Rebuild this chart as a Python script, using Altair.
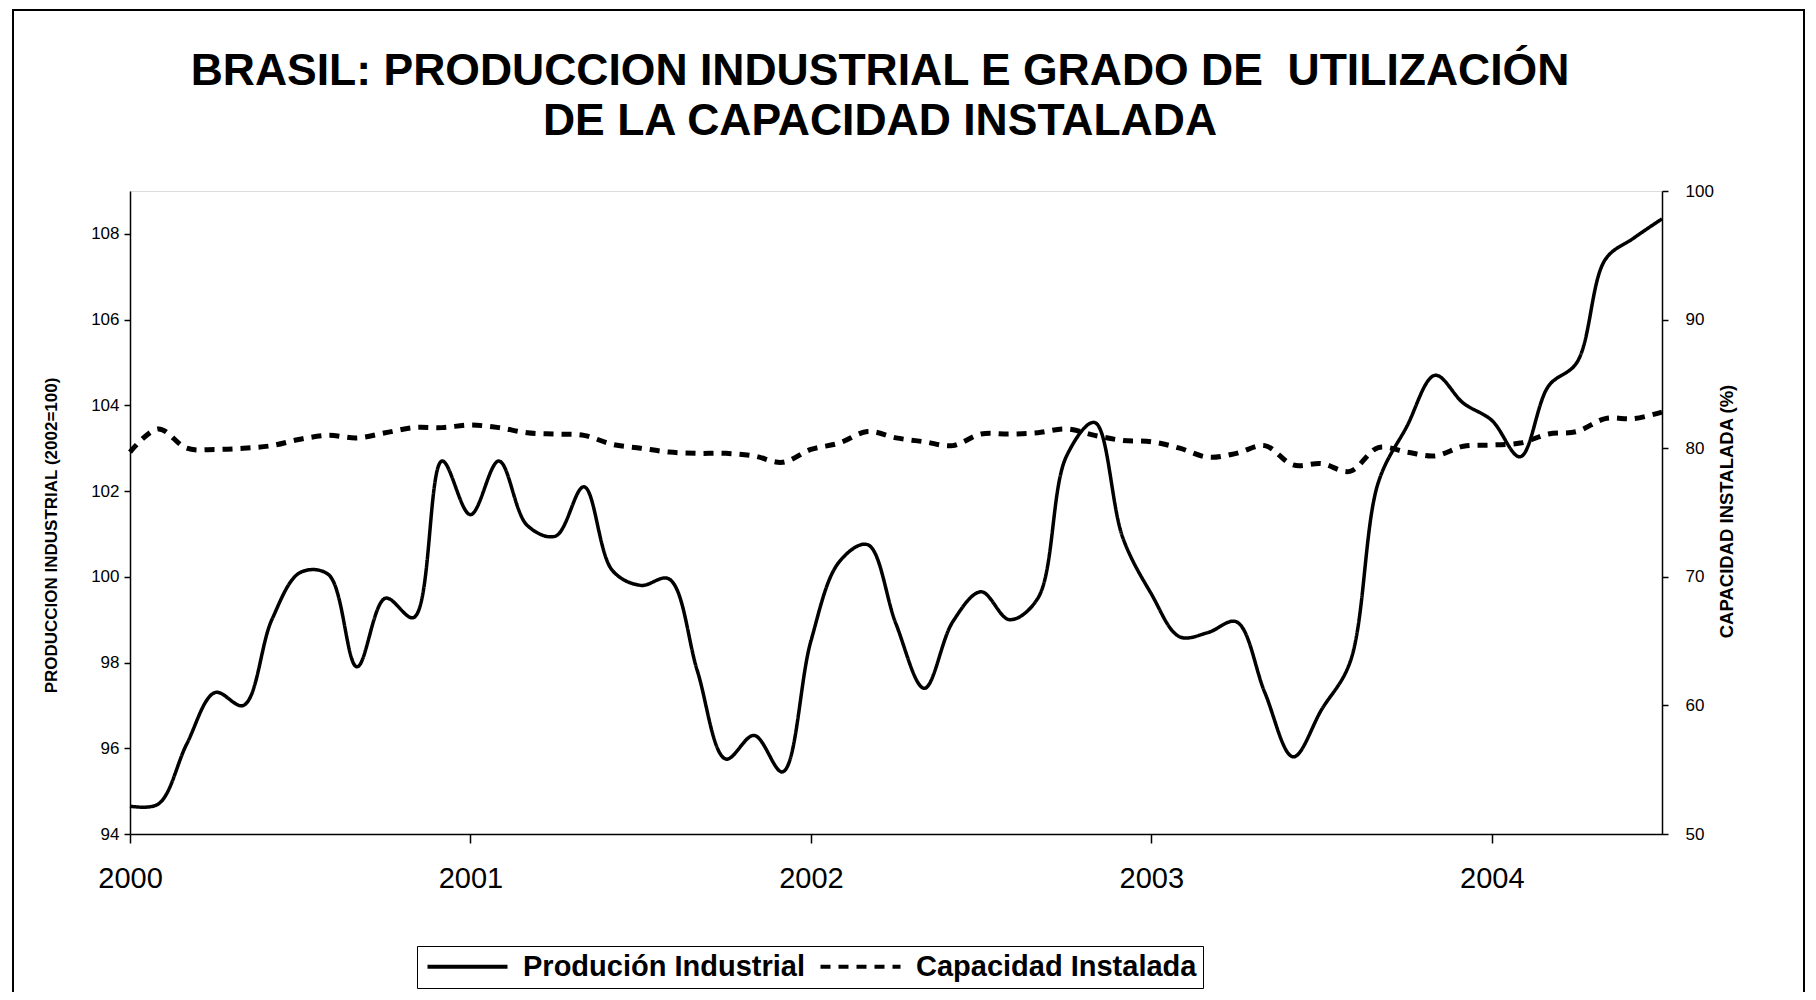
import altair as alt
import pandas as pd

# ---- data (monthly, Jan 2000 .. Jul 2004) ----
meses = list(range(55))
produccion = [
    94.65, 94.7, 96.1, 97.3, 97.0, 99.0, 100.1, 100.05, 97.9, 99.5,
    99.05, 102.7, 101.45, 102.7, 101.2, 100.95, 102.1, 100.15, 99.8, 99.95,
    97.8, 95.75, 96.3, 95.45, 98.5, 100.35, 100.75, 98.9, 97.4, 98.95,
    99.65, 99.0, 99.5, 102.8, 103.6, 100.9, 99.6, 98.6, 98.7, 98.95,
    97.3, 95.8, 96.9, 98.0, 102.2, 103.5, 104.7, 104.05, 103.65, 102.8,
    104.45, 105.0, 107.4, 107.9, 108.35,
]
capacidad = [
    79.7, 81.5, 80.0, 79.9, 80.0, 80.2, 80.7, 81.0, 80.8, 81.2,
    81.6, 81.6, 81.8, 81.6, 81.2, 81.1, 81.0, 80.3, 80.0, 79.7,
    79.6, 79.6, 79.4, 78.9, 79.9, 80.4, 81.3, 80.8, 80.5, 80.2,
    81.1, 81.1, 81.2, 81.5, 81.0, 80.6, 80.5, 80.0, 79.3, 79.6,
    80.2, 78.7, 78.8, 78.2, 80.05, 79.7, 79.4, 80.15, 80.25, 80.4,
    81.1, 81.3, 82.3, 82.3, 82.8,
]
anios_ticks = [0, 12, 24, 36, 48]
ticks_prod = [94, 96, 98, 100, 102, 104, 106, 108]
ticks_cap = [50, 60, 70, 80, 90, 100]
series = ["Produción Industrial", "Capacidad Instalada"]
titulo = ["BRASIL: PRODUCCION INDUSTRIAL E GRADO DE \u00a0UTILIZACIÓN",
          "DE LA CAPACIDAD INSTALADA"]

df_p = pd.DataFrame({"mes": meses, "valor": produccion, "serie": series[0]})
df_c = pd.DataFrame({"mes": meses, "valor": capacidad, "serie": series[1]})

FONT = "Liberation Sans"
dash_scale = alt.Scale(domain=series, range=[[1, 0], [10, 8]])

leyenda = alt.Legend(
    title=None, orient="none", direction="horizontal",
    legendX=287, legendY=755,
    symbolType="M-1,0H7", symbolSize=400, symbolStrokeWidth=4,
    symbolStrokeColor="black", symbolFillColor="transparent",
    labelOffset=71, labelFontSize=29, labelFont=FONT, labelFontWeight="bold",
    labelColor="black", labelLimit=600, columnPadding=7,
    padding=6, strokeColor="black",
)

eje_x = alt.X(
    "mes:Q",
    scale=alt.Scale(domain=[0, 54], nice=False, zero=False),
    axis=alt.Axis(values=anios_ticks, labelExpr="'' + (2000 + datum.value / 12)",
                  title=None, grid=False, labelFontSize=29, labelFont=FONT,
                  tickSize=9, labelPadding=21, labelFlush=False, labelOverlap=False,
                  domainColor="black", tickColor="black", labelColor="black",
                  domainWidth=1.5, tickWidth=1.5),
)

linea_p = alt.Chart(df_p).mark_line(
    color="black", strokeWidth=3.5, interpolate="catmull-rom"
).encode(
    x=eje_x,
    y=alt.Y("valor:Q",
            scale=alt.Scale(domain=[94, 109], nice=False, zero=False),
            axis=alt.Axis(orient="left", values=ticks_prod, grid=False,
                          title="PRODUCCION INDUSTRIAL (2002=100)",
                          titleFont=FONT, titleFontSize=17, titleFontWeight="bold",
                          titleColor="black", titleAngle=270,
                          titleX=-79, titleY=344, titleAlign="center",
                          titleBaseline="middle",
                          labelFont=FONT, labelFontSize=17, labelColor="black",
                          tickSize=6, labelPadding=5, domainColor="black",
                          tickColor="black", domainWidth=1.5, tickWidth=1.5)),
    strokeDash=alt.StrokeDash("serie:N", scale=dash_scale, legend=leyenda),
)

linea_c = alt.Chart(df_c).mark_line(
    color="black", strokeWidth=5, interpolate="catmull-rom", strokeCap="butt"
).encode(
    x=eje_x,
    y=alt.Y("valor:Q",
            scale=alt.Scale(domain=[50, 100], nice=False, zero=False),
            axis=alt.Axis(orient="right", values=ticks_cap, grid=False,
                          title="CAPACIDAD INSTALADA (%)",
                          titleFont=FONT, titleFontSize=18.5, titleFontWeight="bold",
                          titleColor="black", titleAngle=270,
                          titleX=64, titleY=320, titleAlign="center",
                          titleBaseline="middle",
                          labelFont=FONT, labelFontSize=17, labelColor="black",
                          tickSize=6, labelPadding=17, domainColor="black",
                          tickColor="black", domainWidth=1.5, tickWidth=1.5)),
    strokeDash=alt.StrokeDash("serie:N", scale=dash_scale, legend=leyenda),
)

# decorative outer frame of the original figure
marco = alt.Chart(pd.DataFrame({"marco": [0]})).mark_rect(
    fillOpacity=0, stroke="black", strokeWidth=2
).encode(
    x=alt.value(-117), x2=alt.value(1674), y=alt.value(-181), y2=alt.value(900)
)

chart = alt.layer(linea_p, linea_c, marco).resolve_scale(
    y="independent"
).properties(
    width=1532, height=643,
    autosize=alt.AutoSizeParams(type="none"),
    padding={"left": 122, "top": 183, "right": 146, "bottom": 158},
    title=alt.TitleParams(text=titulo, font=FONT, fontSize=44.5, fontWeight="bold",
                          color="black", anchor="middle", dx=-16, offset=40,
                          dy=175, lineHeight=50, frame="group"),
).configure_view(
    stroke="black", strokeWidth=1.5
).configure(background="white")

chart.save("out.html", embed_options={"renderer": "svg", "actions": False})
